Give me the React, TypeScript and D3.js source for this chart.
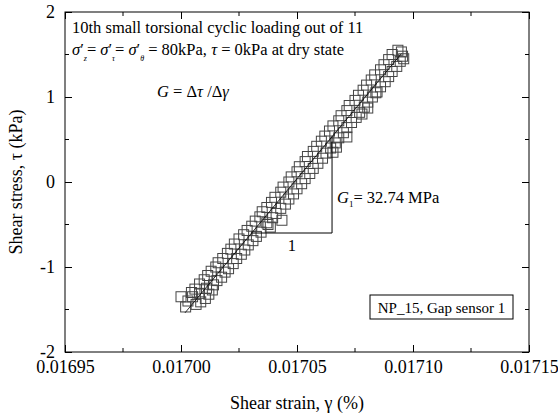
import React, { useEffect, useRef } from 'react';
import * as d3 from 'd3';

const W = 558;
const H = 418;
const margin = { left: 65, right: 29, top: 12, bottom: 66 };

const xDomain = [0.01695, 0.01715];
const yDomain = [-2, 2];
const xTicks = [0.01695, 0.017, 0.01705, 0.0171, 0.01715];
const xTickLabels = ['0.01695', '0.01700', '0.01705', '0.01710', '0.01715'];
const xMinorTicks = [0.016975, 0.017025, 0.017075, 0.017125];
const yTicks = [-2, -1, 0, 1, 2];
const yTickLabels = ['-2', '-1', '0', '1', '2'];
const yMinorTicks = [-1.5, -0.5, 0.5, 1.5];

// shear strain, in units of 1e-6 % above 0.017 %
const strainMicro = [
  0.0, 2.0, 6.5, 3.0, 8.5, 5.0, 10.5, 4.5, 8.0, 12.0,
  6.0, 11.0, 13.5, 8.0, 14.0, 10.0, 15.5, 11.5, 17.5, 13.0,
  19.0, 15.0, 20.5, 16.0, 22.5, 18.0, 24.0, 20.0, 26.0, 21.5,
  27.5, 23.0, 29.0, 25.0, 31.0, 27.0, 32.5, 28.5, 34.5, 30.5,
  38.5, 43.5, 32.0, 37.0, 34.0, 39.5, 35.0, 41.0, 37.0, 43.0,
  39.0, 45.0, 40.5, 46.5, 43.0, 48.5, 44.0, 50.0, 46.5, 52.0,
  47.5, 53.5, 50.0, 55.5, 51.0, 57.0, 53.5, 59.0, 54.5, 61.0,
  57.0, 62.5, 58.5, 64.5, 60.5, 66.5, 62.0, 68.0, 64.0, 70.0,
  65.5, 71.5, 68.0, 73.5, 69.0, 75.5, 71.5, 77.0, 72.5, 79.0,
  75.0, 80.5, 76.5, 82.5, 78.5, 84.5, 80.0, 86.0, 82.0, 88.0,
  83.5, 89.5, 86.0, 91.0, 87.5, 93.0, 89.5, 94.5, 91.0, 95.5,
  93.5, 95.0, 96.0, 80.5, 71.5, 67.0, 78.0, 84.0, 65.5, 37.5,
];
// shear stress, kPa
const stress = [
  -1.35, -1.47, -1.44, -1.40, -1.41, -1.35, -1.37, -1.30, -1.31, -1.32,
  -1.26, -1.25, -1.27, -1.20, -1.21, -1.15, -1.16, -1.10, -1.12, -1.05,
  -1.06, -1.00, -1.02, -0.95, -0.96, -0.90, -0.90, -0.84, -0.85, -0.79,
  -0.80, -0.73, -0.74, -0.67, -0.69, -0.62, -0.64, -0.57, -0.59, -0.52,
  -0.53, -0.45, -0.46, -0.48, -0.41, -0.42, -0.35, -0.37, -0.30, -0.31,
  -0.24, -0.26, -0.18, -0.20, -0.12, -0.14, -0.06, -0.08, 0.0, -0.02,
  0.06, 0.04, 0.12, 0.10, 0.18, 0.16, 0.24, 0.22, 0.30, 0.28,
  0.36, 0.34, 0.42, 0.40, 0.48, 0.46, 0.54, 0.52, 0.60, 0.58,
  0.66, 0.64, 0.72, 0.70, 0.78, 0.76, 0.84, 0.82, 0.90, 0.88,
  0.96, 0.94, 1.02, 1.00, 1.08, 1.06, 1.14, 1.12, 1.20, 1.18,
  1.26, 1.24, 1.32, 1.30, 1.38, 1.36, 1.44, 1.42, 1.50, 1.48,
  1.55, 1.53, 1.45, 0.87, 0.53, 0.41, 0.80, 1.05, 0.35, -0.50,
];

// linear fit line endpoints
const fitStrain = [0.0170017, 0.017095];
const fitStress = [-1.54, 1.51];
// slope triangle
const triStrain = [0.0170304, 0.0170651, 0.0170651];
const triStress = [-0.6, -0.6, 0.537];

const FONT = "'Liberation Serif', 'Times New Roman', serif";

export default function App() {
  const xAxisRef = useRef<SVGGElement>(null);
  const yAxisRef = useRef<SVGGElement>(null);
  const topAxisRef = useRef<SVGGElement>(null);
  const rightAxisRef = useRef<SVGGElement>(null);

  const x = d3.scaleLinear().domain(xDomain).range([margin.left, W - margin.right]);
  const y = d3.scaleLinear().domain(yDomain).range([H - margin.bottom, margin.top]);

  useEffect(() => {
    const styleAxis = (g: d3.Selection<SVGGElement, unknown, null, undefined>) => {
      g.select('.domain').remove();
      g.selectAll('line').attr('stroke', '#000').attr('stroke-width', 1);
      g.selectAll('text')
        .attr('fill', '#000')
        .style('font-family', FONT)
        .style('font-size', '18px');
    };
    const xa = d3
      .axisBottom(x)
      .tickValues(xTicks)
      .tickFormat((_d, i) => xTickLabels[i])
      .tickSizeInner(-7)
      .tickSizeOuter(0)
      .tickPadding(8);
    d3.select(xAxisRef.current!).call(xa).call(styleAxis);
    const ya = d3
      .axisLeft(y)
      .tickValues(yTicks)
      .tickFormat((_d, i) => yTickLabels[i])
      .tickSizeInner(-7)
      .tickSizeOuter(0)
      .tickPadding(10);
    d3.select(yAxisRef.current!).call(ya).call(styleAxis);
    const ta = d3.axisTop(x).tickValues(xTicks).tickFormat(() => '').tickSizeInner(-7).tickSizeOuter(0);
    d3.select(topAxisRef.current!).call(ta).call(styleAxis);
    const ra = d3.axisRight(y).tickValues(yTicks).tickFormat(() => '').tickSizeInner(-7).tickSizeOuter(0);
    d3.select(rightAxisRef.current!).call(ra).call(styleAxis);
  }, []);

  const x0 = margin.left;
  const x1 = W - margin.right;
  const y0 = H - margin.bottom;
  const y1 = margin.top;
  const minor = 4;

  const line = d3
    .line<number>()
    .x((_d, i) => x(fitStrain[i]))
    .y((d) => y(d));
  const triLine = d3
    .line<number>()
    .x((_d, i) => x(triStrain[i]))
    .y((d) => y(d));

  const sq = 10;

  return (
    <svg
      width={W}
      height={H}
      style={{ position: 'absolute', left: 0, top: 0, background: '#fff' }}
      fontFamily={FONT}
    >
      <rect x={0} y={0} width={W} height={H} fill="#fff" />
      {/* data squares */}
      <g>
        {strainMicro.map((u, i) => (
          <rect
            key={i}
            x={x(0.017 + u * 1e-6) - sq / 2}
            y={y(stress[i]) - sq / 2}
            width={sq}
            height={sq}
            fill="none"
            stroke="#444"
            strokeWidth={1}
          />
        ))}
      </g>
      {/* fit line */}
      <path d={line(fitStress) || ''} fill="none" stroke="#000" strokeWidth={0.8} />
      {/* triangle */}
      <path d={triLine(triStress) || ''} fill="none" stroke="#000" strokeWidth={1} />

      {/* frame */}
      <rect x={x0} y={y1} width={x1 - x0} height={y0 - y1} fill="none" stroke="#000" strokeWidth={1} />
      <g ref={xAxisRef} transform={`translate(0,${y0})`} />
      <g ref={yAxisRef} transform={`translate(${x0},0)`} />
      <g ref={topAxisRef} transform={`translate(0,${y1})`} />
      <g ref={rightAxisRef} transform={`translate(${x1},0)`} />
      {/* minor ticks */}
      {xMinorTicks.map((v) => (
        <g key={'xm' + v}>
          <line x1={x(v)} x2={x(v)} y1={y0} y2={y0 - minor} stroke="#000" />
          <line x1={x(v)} x2={x(v)} y1={y1} y2={y1 + minor} stroke="#000" />
        </g>
      ))}
      {yMinorTicks.map((v) => (
        <g key={'ym' + v}>
          <line x1={x0} x2={x0 + minor} y1={y(v)} y2={y(v)} stroke="#000" />
          <line x1={x1} x2={x1 - minor} y1={y(v)} y2={y(v)} stroke="#000" />
        </g>
      ))}

      {/* axis titles */}
      <text x={(x0 + x1) / 2} y={409} textAnchor="middle" fontSize={18} fill="#000">
        Shear strain, γ (%)
      </text>
      <text
        transform={`translate(22,${(y0 + y1) / 2}) rotate(-90)`}
        textAnchor="middle"
        fontSize={18}
        fill="#000"
      >
        Shear stress, τ (kPa)
      </text>

      {/* annotations */}
      <text x={72} y={33} fontSize={16.5} fill="#000">
        10th small torsional cyclic loading out of 11
      </text>
      <text x={72} y={55} fontSize={16.5} fill="#000">
        <tspan fontStyle="italic">σ</tspan>
        <tspan>′</tspan>
        <tspan fontSize={8} fontStyle="italic" dy={6}>z</tspan>
        <tspan dy={-6}>= </tspan>
        <tspan fontStyle="italic">σ</tspan>
        <tspan>′</tspan>
        <tspan fontSize={8} fontStyle="italic" dy={6}>τ</tspan>
        <tspan dy={-6}>= </tspan>
        <tspan fontStyle="italic">σ</tspan>
        <tspan>′</tspan>
        <tspan fontSize={8} fontStyle="italic" dy={6}>θ</tspan>
        <tspan dy={-6}> = 80kPa, </tspan>
        <tspan fontStyle="italic">τ</tspan>
        <tspan> = 0kPa at dry state</tspan>
      </text>
      <text x={157} y={97} fontSize={16.5} fill="#000">
        <tspan fontStyle="italic">G</tspan>
        <tspan> = Δ</tspan>
        <tspan fontStyle="italic">τ</tspan>
        <tspan> /Δ</tspan>
        <tspan fontStyle="italic">γ</tspan>
      </text>
      <text x={337} y={203} fontSize={16.5} fill="#000">
        <tspan fontStyle="italic">G</tspan>
        <tspan fontSize={9} dy={4}>1</tspan>
        <tspan dy={-4}>= 32.74 MPa</tspan>
      </text>
      <text x={x((triStrain[0] + triStrain[1]) / 2)} y={251} fontSize={16.5} textAnchor="middle" fill="#000">
        1
      </text>

      {/* legend box */}
      <rect x={370} y={295} width={143} height={24} fill="#fff" stroke="#000" strokeWidth={1} />
      <text x={441.5} y={312.5} fontSize={15} textAnchor="middle" fill="#000">
        NP_15, Gap sensor 1
      </text>
    </svg>
  );
}
